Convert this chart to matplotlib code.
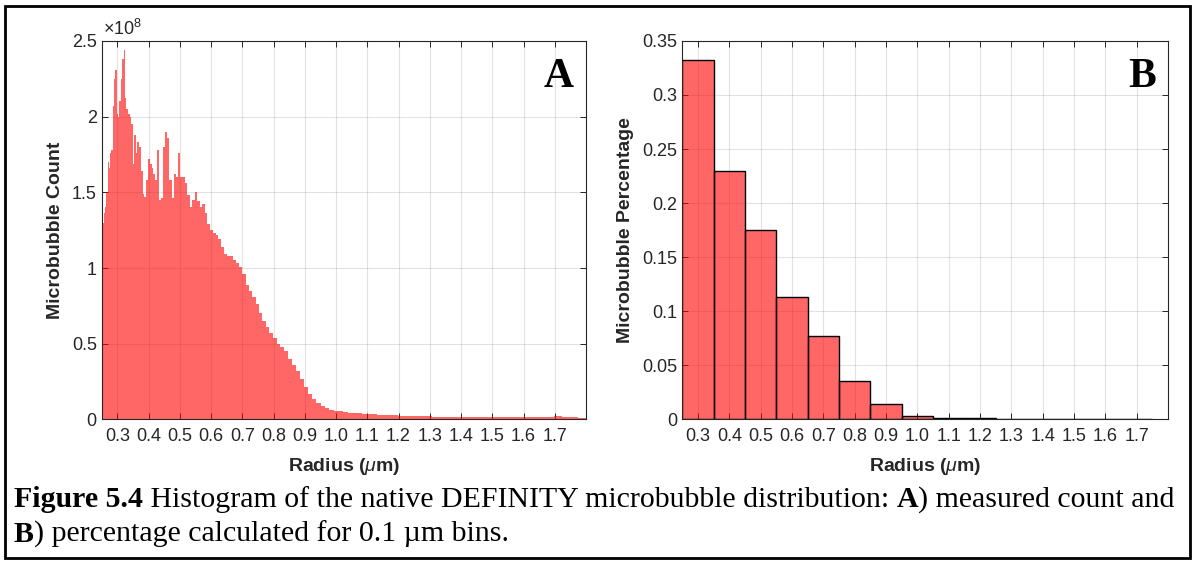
import numpy as np
import matplotlib
matplotlib.use('Agg')
import matplotlib.pyplot as plt
from matplotlib.ticker import FuncFormatter
from matplotlib.patches import Rectangle

# panel A: measured count (in units of 1e8), log-spaced radius bins 0.25 .. 1.8 um
r_min, r_max = 0.25, 1.8
count_e8 = [
    1.28, 1.30, 1.36, 1.40, 1.50, 1.70, 1.66, 1.76, 1.78, 2.07,
    2.25, 2.31, 2.02, 2.00, 2.10, 2.25, 2.38, 2.44, 2.12, 2.05,
    2.02, 2.00, 1.95, 1.69, 1.88, 1.76, 1.83, 1.80, 1.64, 1.49,
    1.47, 1.58, 1.72, 1.69, 1.66, 1.62, 1.58, 1.78, 1.45, 1.46,
    1.80, 1.90, 1.86, 1.58, 1.46, 1.62, 1.60, 1.76, 1.60, 1.60,
    1.56, 1.48, 1.40, 1.45, 1.50, 1.44, 1.40, 1.42, 1.36, 1.29,
    1.25, 1.23, 1.22, 1.19, 1.14, 1.09, 1.08, 1.08, 1.05, 1.03,
    1.01, 0.96, 0.89, 0.85, 0.81, 0.76, 0.70, 0.65, 0.61, 0.57,
    0.535, 0.50, 0.48, 0.45, 0.40, 0.36, 0.32, 0.27, 0.215, 0.17,
    0.135, 0.11, 0.088, 0.074, 0.064, 0.057, 0.053, 0.049, 0.046, 0.044,
    0.041, 0.039, 0.036, 0.034, 0.032, 0.030, 0.029, 0.027, 0.025, 0.024,
    0.024, 0.023, 0.022, 0.021, 0.019, 0.018, 0.017, 0.016, 0.016, 0.015,
    0.015, 0.016, 0.015, 0.015, 0.014, 0.015, 0.015, 0.014, 0.015, 0.015,
    0.016, 0.018, 0.020, 0.019, 0.014, 0.013,
]

# panel B: fraction per 0.1 um bin
pct_centers = [0.3, 0.4, 0.5, 0.6, 0.7, 0.8, 0.9, 1.0, 1.1, 1.2, 1.3, 1.4, 1.5, 1.6, 1.7]
pct_values = [0.332, 0.230, 0.175, 0.113, 0.0775, 0.036, 0.0145, 0.003, 0.0016,
              0.001, 0.0003, 0.0008, 0.0003, 0.0002, 0.0002]

xticks = [0.3, 0.4, 0.5, 0.6, 0.7, 0.8, 0.9, 1.0, 1.1, 1.2, 1.3, 1.4, 1.5, 1.6, 1.7]
yticks_a = [0, 0.5, 1, 1.5, 2, 2.5]
yticks_b = [0, 0.05, 0.1, 0.15, 0.2, 0.25, 0.3, 0.35]

plt.rcParams['font.family'] = ['Liberation Sans', 'DejaVu Sans']
plt.rcParams['mathtext.fontset'] = 'custom'
plt.rcParams['mathtext.it'] = 'Liberation Sans:italic'
plt.rcParams['mathtext.rm'] = 'Liberation Sans'

fc = (1, 0, 0, 0.6)
grey = '#262626'

fig = plt.figure(figsize=(11.96, 5.63), dpi=100)
axA = fig.add_axes([0.0850, 0.2549, 0.4050, 0.6726])
axB = fig.add_axes([0.5705, 0.2549, 0.4061, 0.6726])


def style(ax, yticks):
    ax.set_xlim(r_min, r_max)
    ax.set_xticks(xticks)
    ax.xaxis.set_major_formatter(FuncFormatter(lambda v, p: '%.1f' % v))
    ax.set_yticks(yticks)
    ax.yaxis.set_major_formatter(FuncFormatter(lambda v, p: '%g' % v))
    ax.set_ylim(yticks[0], yticks[-1])
    ax.grid(True, color=grey, alpha=0.13, linewidth=0.8)
    ax.set_axisbelow(True)
    ax.tick_params(direction='in', top=True, right=True, length=4, width=0.7,
                   colors=grey, labelsize=13, labelcolor=grey)
    ax.tick_params(axis='x', pad=6)
    for sp in ax.spines.values():
        sp.set_color(grey)
        sp.set_linewidth(0.8)
    ax.set_xlabel(r'Radius ($\mu$m)', fontsize=14, fontweight='bold', color=grey)
    ax.xaxis.set_label_coords(0.5, -0.097)


# A
edges = np.geomspace(r_min, r_max, len(count_e8) + 1)
axA.stairs(count_e8, edges, fill=True, color=fc, linewidth=0)
style(axA, yticks_a)
axA.set_ylabel('Microbubble Count', fontsize=14, fontweight='bold', color=grey)
axA.yaxis.set_label_coords(-0.077, 0.5)
axA.text(0.003, 1.004, r'$\times$10$^{8}$', transform=axA.transAxes, ha='left', va='bottom',
         fontsize=13, color=grey)
axA.text(0.975, 0.955, 'A', transform=axA.transAxes, ha='right', va='top', fontsize=30,
         fontweight='bold', family='Liberation Serif', color='black')

# B
axB.bar(pct_centers, pct_values, width=0.1, color=fc, edgecolor='black', linewidth=1.0)
style(axB, yticks_b)
axB.set_ylabel('Microbubble Percentage', fontsize=14, fontweight='bold', color=grey)
axB.yaxis.set_label_coords(-0.099, 0.5)
axB.text(0.975, 0.955, 'B', transform=axB.transAxes, ha='right', va='top', fontsize=30,
         fontweight='bold', family='Liberation Serif', color='black')

# caption with mixed bold / regular runs
cap_lines = [
    [('Figure 5.4', 'bold'), (' Histogram of the native DEFINITY microbubble distribution: ', 'normal'),
     ('A', 'bold'), (') measured count and', 'normal')],
    [('B', 'bold'), (') percentage calculated for 0.1 \u00b5m bins.', 'normal')],
]
cap_y = [1 - 507 / 563, 1 - 542 / 563]
fig.canvas.draw()
rend = fig.canvas.get_renderer()
for runs, y in zip(cap_lines, cap_y):
    x = 14 / 1196
    for s, w in runs:
        t = fig.text(x, y, s, fontsize=21.5, fontweight=w, family='Liberation Serif',
                     color='black', ha='left', va='baseline')
        bb = t.get_window_extent(renderer=rend)
        x += bb.width / fig.bbox.width

fig.patches.append(Rectangle((5 / 1196, 5 / 563), 1185 / 1196, 552 / 563, transform=fig.transFigure,
                             fill=False, edgecolor='black', linewidth=2))

fig.savefig('out.png', dpi=100)
